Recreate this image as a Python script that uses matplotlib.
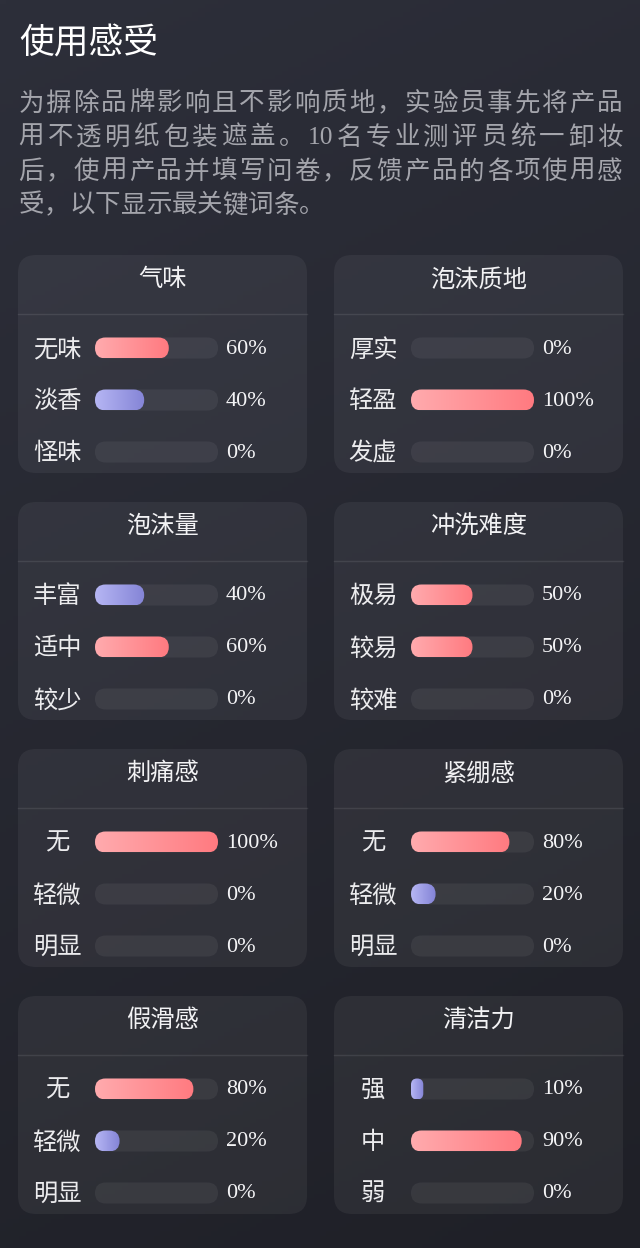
import re
import numpy as np
import matplotlib.pyplot as plt
from matplotlib.patches import FancyBboxPatch
from matplotlib.colors import LinearSegmentedColormap, to_rgb

# data
page_title = '使用感受'
intro_lines = ['为摒除品牌影响且不影响质地，实验员事先将产品',
               '用不透明纸包装遮盖。10名专业测评员统一卸妆',
               '后，使用产品并填写问卷，反馈产品的各项使用感',
               '受，以下显示最关键词条。']
card_titles = ['气味', '泡沫质地', '泡沫量', '冲洗难度', '刺痛感', '紧绷感', '假滑感', '清洁力']
row_labels = [['无味', '淡香', '怪味'],
              ['厚实', '轻盈', '发虚'],
              ['丰富', '适中', '较少'],
              ['极易', '较易', '较难'],
              ['无', '轻微', '明显'],
              ['无', '轻微', '明显'],
              ['无', '轻微', '明显'],
              ['强', '中', '弱']]
percents = [[60, 40, 0],
            [0, 100, 0],
            [40, 60, 0],
            [50, 50, 0],
            [100, 0, 0],
            [80, 20, 0],
            [80, 20, 0],
            [10, 90, 0]]

FAM = ['Liberation Serif', 'Noto Sans CJK SC', 'DejaVu Sans']
W, H = 640, 1248
dy = 2  # CJK text sits a bit high with va='center'

fig = plt.figure(figsize=(6.4, 12.48), dpi=100)
ax = fig.add_axes([0, 0, 1, 1])

# background gradient
yy, xx = np.mgrid[0:1:300j, 0:1:100j]
t = 0.8 * yy + 0.2 * xx
c0, c1 = np.array(to_rgb('#2d2f3a')), np.array(to_rgb('#1f2027'))
ax.imshow(c0 + (c1 - c0) * t[..., None], extent=[0, W, H, 0], aspect='auto', zorder=0)

# heading + intro
ax.text(19, 43 + dy, page_title, fontsize=25, color='white', family=FAM, ha='left', va='center')

em = 25.5
fs_intro = em * 0.72
for i, line in enumerate(intro_lines):
    tokens = re.findall(r'\d+|.', line)
    widths = [len(tk) * em / 2 if tk.isdigit() else em for tk in tokens]
    if i < len(intro_lines) - 1:
        gap = (604 - sum(widths)) / (len(tokens) - 1)
    else:
        gap = 0
    x = 18
    y = 102 + i * 34 + dy
    for tk, w in zip(tokens, widths):
        ax.text(x + 0.5, y, tk, fontsize=fs_intro, color='#a4a5ac', family=FAM,
                ha='left', va='center')
        x += w + gap

pink = LinearSegmentedColormap.from_list('pink', ['#ffabae', '#ff7a80'])
purple = LinearSegmentedColormap.from_list('purple', ['#b6b6f4', '#8484d6'])
grad = np.linspace(0, 1, 256)[None, :]

card_w, card_h = 289, 218
track_w, track_h = 123, 21

for i, title in enumerate(card_titles):
    x0 = 18 + (i % 2) * 316
    y0 = 255 + (i // 2) * 247
    card = FancyBboxPatch((x0, y0), card_w, card_h,
                          boxstyle='round,pad=0,rounding_size=18',
                          fc=(1, 1, 1, 0.055), ec='none', zorder=1)
    ax.add_patch(card)
    ax.text(x0 + card_w / 2, y0 + 23 + dy, title, fontsize=17.5, color='#f2f2f4',
            family=FAM, ha='center', va='center', zorder=5)
    ax.plot([x0, x0 + card_w], [y0 + 59, y0 + 59], color=(1, 1, 1, 0.09), lw=1, zorder=2)

    vals = percents[i]
    for k, (lab, p) in enumerate(zip(row_labels[i], vals)):
        ry = y0 + 93 + k * 52
        ax.text(x0 + 39, ry + dy, lab, fontsize=17.5, color='#ececee', family=FAM,
                ha='center', va='center', zorder=5)
        bx = x0 + 77
        track = FancyBboxPatch((bx, ry - track_h / 2), track_w, track_h,
                               boxstyle='round,pad=0,rounding_size=10.5',
                               fc=(1, 1, 1, 0.06), ec='none', zorder=2)
        ax.add_patch(track)
        if p > 0:
            fw = track_w * p / 100
            r = min(track_h / 2, fw / 2)
            clip = FancyBboxPatch((bx, ry - track_h / 2), fw, track_h,
                                  boxstyle=f'round,pad=0,rounding_size={r}',
                                  fc='none', ec='none', zorder=3)
            ax.add_patch(clip)
            cmap = pink if p == max(vals) else purple
            im = ax.imshow(grad, cmap=cmap, aspect='auto', zorder=3,
                           extent=[bx, bx + fw, ry + track_h / 2, ry - track_h / 2])
            im.set_clip_path(clip)
        ax.text(x0 + 208, ry + 1, f'{p}%', fontsize=16, color='#f4f4f6',
                family=['Liberation Serif'], ha='left', va='center', zorder=5)

ax.set_xlim(0, W)
ax.set_ylim(H, 0)
ax.axis('off')
fig.savefig('out.png', dpi=100)
